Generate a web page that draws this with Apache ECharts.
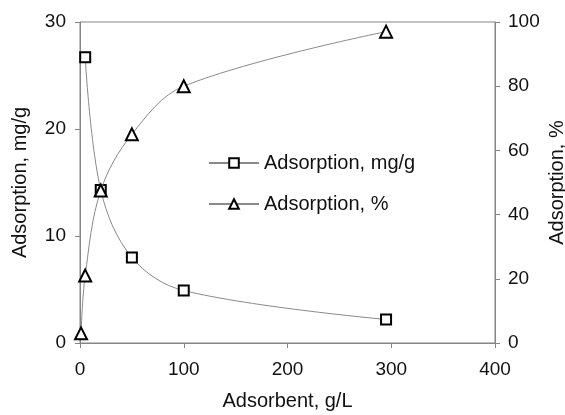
<!DOCTYPE html>
<html>
<head>
<meta charset="utf-8">
<script src="https://cdn.jsdelivr.net/npm/echarts@6/dist/echarts.min.js"></script>
<style>
  html, body { margin: 0; padding: 0; background: #fff; }
  #chart { width: 565px; height: 415px; }
</style>
</head>
<body>
<div id="chart"></div>
<script>
// Adsorbent dose (g/L) and the two adsorption measures
const doseMg = [5, 20, 50, 100, 295];
const adsorptionMg = [26.7, 14.3, 8.0, 4.9, 2.2];
const dosePct = [1, 5, 20, 50, 100, 295];
const adsorptionPct = [3, 21, 47.5, 65, 80, 97];

const xTicks = { min: 0, max: 400, interval: 100 };
const leftTicks = { min: 0, max: 30, interval: 10 };
const rightTicks = { min: 0, max: 100, interval: 20 };

const font = 'Liberation Sans, Arial, sans-serif';
const axisGray = '#858585';
const tickFont = 19;
const titleFont = 20;

const pairs = (xs, ys) => xs.map((x, i) => [x, ys[i]]);

const chart = echarts.init(document.getElementById('chart'), null, { renderer: 'canvas' });

const yAxisCommon = {
  type: 'value',
  nameLocation: 'middle',
  nameRotate: 90,
  nameMoveOverlap: false,
  nameTextStyle: { fontFamily: font, fontSize: titleFont, color: '#111' },
  axisLine: { show: true, lineStyle: { color: axisGray, width: 1 } },
  axisTick: { show: true, inside: false, length: 5, lineStyle: { color: axisGray } },
  splitLine: { show: false }
};

chart.setOption({
  animation: false,
  backgroundColor: '#fff',
  grid: {
    left: 80, right: 70, top: 22, bottom: 72,
    outerBoundsMode: 'none',
    containLabel: false,
    show: true, borderColor: axisGray, borderWidth: 1
  },
  legend: {
    orient: 'vertical',
    left: 203, top: 148,
    itemWidth: 50, itemHeight: 12,
    itemGap: 21,
    textStyle: { fontFamily: font, fontSize: titleFont, color: '#111' },
    data: ['Adsorption, mg/g', 'Adsorption, %']
  },
  xAxis: {
    type: 'value',
    min: xTicks.min, max: xTicks.max, interval: xTicks.interval,
    name: 'Adsorbent, g/L',
    nameLocation: 'middle',
    nameGap: 48,
    nameMoveOverlap: false,
    nameTextStyle: { fontFamily: font, fontSize: titleFont, color: '#111' },
    axisLine: { show: true, onZero: false, lineStyle: { color: axisGray, width: 1 } },
    axisTick: { show: true, inside: false, length: 5, lineStyle: { color: axisGray } },
    axisLabel: { fontFamily: font, fontSize: tickFont, color: '#111', margin: 17 },
    splitLine: { show: false }
  },
  yAxis: [
    Object.assign({}, yAxisCommon, {
      position: 'left',
      min: leftTicks.min, max: leftTicks.max, interval: leftTicks.interval,
      name: 'Adsorption, mg/g',
      nameGap: 50,
      axisLabel: { fontFamily: font, fontSize: tickFont, color: '#111', margin: 14 }
    }),
    Object.assign({}, yAxisCommon, {
      position: 'right',
      min: rightTicks.min, max: rightTicks.max, interval: rightTicks.interval,
      name: 'Adsorption, %',
      nameGap: 52,
      axisLabel: { fontFamily: font, fontSize: tickFont, color: '#111', margin: 13 }
    })
  ],
  series: [
    {
      name: 'Adsorption, mg/g',
      type: 'line',
      yAxisIndex: 0,
      data: pairs(doseMg, adsorptionMg),
      smooth: 0.35,
      symbol: 'rect',
      symbolSize: 10,
      lineStyle: { color: '#8a8a8a', width: 1 },
      itemStyle: { color: '#fff', borderColor: '#000', borderWidth: 2 },
      z: 3
    },
    {
      name: 'Adsorption, %',
      type: 'line',
      yAxisIndex: 1,
      data: pairs(dosePct, adsorptionPct),
      smooth: 0.35,
      symbol: 'triangle',
      symbolSize: 12,
      lineStyle: { color: '#8a8a8a', width: 1 },
      itemStyle: { color: '#fff', borderColor: '#000', borderWidth: 2 },
      z: 4
    }
  ]
});
</script>
</body>
</html>
